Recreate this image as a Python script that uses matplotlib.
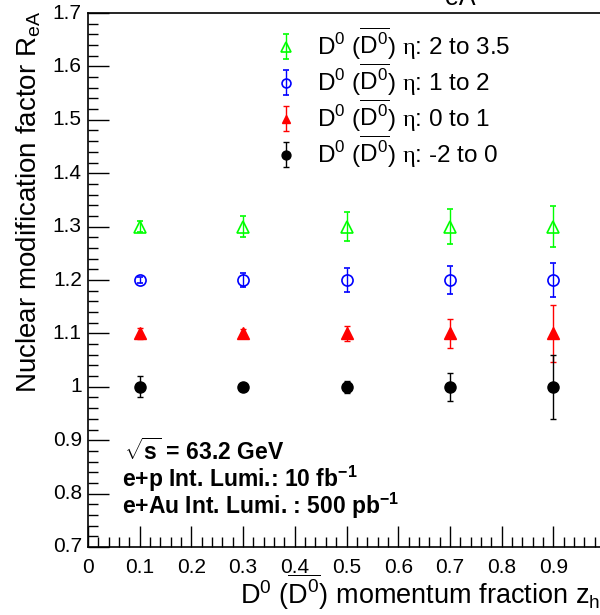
import numpy as np
import matplotlib
matplotlib.use('Agg')
import matplotlib.pyplot as plt
from matplotlib.ticker import MultipleLocator

plt.rcParams['font.family'] = ['Liberation Sans', 'DejaVu Sans']
plt.rcParams['mathtext.fontset'] = 'custom'
plt.rcParams['mathtext.rm'] = 'Liberation Sans'
plt.rcParams['mathtext.it'] = 'Liberation Sans:italic'
plt.rcParams['mathtext.bf'] = 'Liberation Sans:bold'
plt.rcParams['mathtext.sf'] = 'Liberation Serif'

# %% data
z = [0.1, 0.3, 0.5, 0.7, 0.9]

r_eta_2_35 = [1.3, 1.3, 1.3, 1.3, 1.3]
e_eta_2_35 = [0.011, 0.019, 0.027, 0.033, 0.039]

r_eta_1_2 = [1.2, 1.2, 1.2, 1.2, 1.2]
e_eta_1_2 = [0.005, 0.014, 0.022, 0.027, 0.031]

r_eta_0_1 = [1.1, 1.1, 1.1, 1.1, 1.1]
e_eta_0_1 = [0.011, 0.009, 0.014, 0.027, 0.053]

r_eta_m2_0 = [1.0, 1.0, 1.0, 1.0, 1.0]
e_eta_m2_0 = [0.020, 0.004, 0.011, 0.026, 0.060]

dd = r'$\mathrm{D^0}$ ($\overline{\mathrm{D^0}}$) $\mathsf{\eta}$: '
labels = [dd + '2 to 3.5', dd + '1 to 2', dd + '0 to 1', dd + '-2 to 0']

# %% plot
fig = plt.figure(figsize=(6.0, 6.15), dpi=100)
ax = fig.add_axes([88/600, 68/615, 517/600, 534/615])

kw = dict(linestyle='none', capsize=2.5, elinewidth=1, capthick=1)
h1 = ax.errorbar(z, r_eta_2_35, yerr=e_eta_2_35, fmt='^', color='#00ff00',
                 mfc='none', mew=1.2, ms=9, **kw)
h2 = ax.errorbar(z, r_eta_1_2, yerr=e_eta_1_2, fmt='o', color='#0000ff',
                 mfc='none', mew=1.2, ms=8, **kw)
h3 = ax.errorbar(z, r_eta_0_1, yerr=e_eta_0_1, fmt='^', color='#ff0000',
                 ms=8, **kw)
h4 = ax.errorbar(z, r_eta_m2_0, yerr=e_eta_m2_0, fmt='o', color='black',
                 ms=8, **kw)

ax.set_xlim(0, 1)
ax.set_ylim(0.7, 1.7)
ax.xaxis.set_major_locator(MultipleLocator(0.1))
ax.xaxis.set_minor_locator(MultipleLocator(0.02))
ax.yaxis.set_major_locator(MultipleLocator(0.1))
ax.yaxis.set_minor_locator(MultipleLocator(0.02))
ax.set_xticklabels([])
ax.set_yticklabels([])
for t in np.arange(0, 1.0, 0.1):
    ax.text(t, -0.02, '%g' % round(t, 1), transform=ax.get_xaxis_transform(),
            ha='center', va='top', fontsize=15)
for t in np.arange(0.7, 1.71, 0.1):
    ax.text(-0.012, t, '%g' % round(t, 1), transform=ax.get_yaxis_transform(),
            ha='right', va='center', fontsize=15)
ax.tick_params(which='both', direction='in', top=False, right=False, width=1)
ax.tick_params(which='major', length=15)
ax.tick_params(which='minor', length=7)
for s in ax.spines.values():
    s.set_linewidth(1.2)

leg = ax.legend([h1, h2, h3, h4], labels, loc='upper left',
                bbox_to_anchor=(276/600, 1 - 26/615), bbox_transform=fig.transFigure,
                frameon=False, fontsize=17.5, handlelength=0.8, handletextpad=0.9,
                labelspacing=0.0, borderpad=0, borderaxespad=0, markerscale=0.8)

# annotation block
fig.text(124/600, 1 - 460/615, r'$\sqrt{\mathbf{s}}$ = 63.2 GeV',
         fontsize=16.5, fontweight='bold', va='baseline')
fig.text(122/600, 1 - 487/615, r'e+p Int. Lumi.: 10 fb$^{\mathbf{-1}}$',
         fontsize=16.5, fontweight='bold', va='baseline')
fig.text(122/600, 1 - 514/615, r'e+Au Int. Lumi. : 500 pb$^{\mathbf{-1}}$',
         fontsize=16.5, fontweight='bold', va='baseline')

# axis titles
fig.text(240/600, 1 - 604/615,
         r'$\mathrm{D^0}$ ($\overline{\mathrm{D^0}}$) momentum fraction z$_\mathrm{h}$',
         fontsize=19.5, ha='left', va='baseline')
fig.text(43/600, 1 - 393/615, r'Nuclear modification factor R$_\mathrm{eA}$',
         fontsize=20, rotation=90, ha='right', va='bottom')
fig.text(460/600, 1 - 5/615, 'eA', fontsize=18, ha='center', va='baseline')

plt.savefig('out.png')
